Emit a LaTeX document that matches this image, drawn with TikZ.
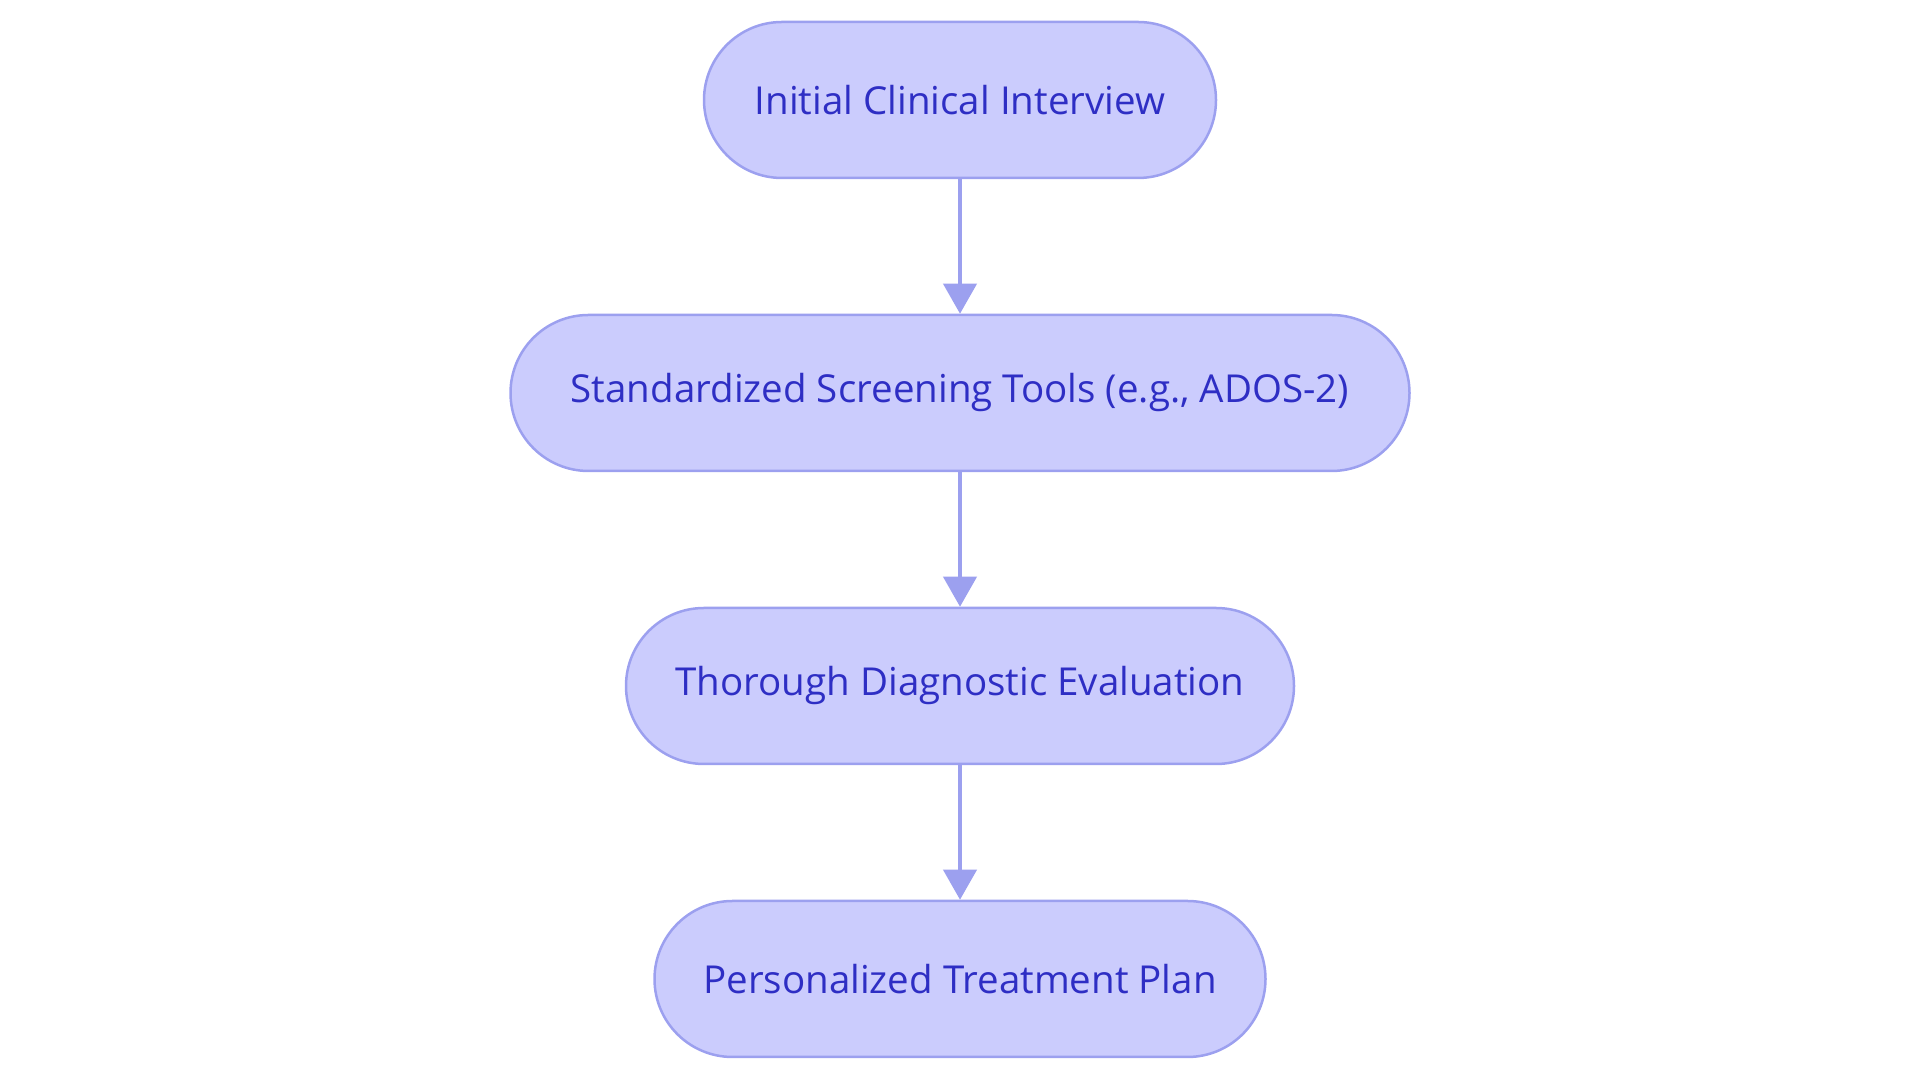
\documentclass[tikz,border=0pt]{standalone}
\usepackage{fontspec}
\setmainfont{Open Sans}
\usetikzlibrary{arrows.meta}
\definecolor{stepfill}{HTML}{CBCCFD}
\definecolor{stepline}{HTML}{9CA0EF}
\definecolor{steptext}{HTML}{2E2EC4}
\begin{document}
\begin{tikzpicture}[x=1pt,y=1pt]

    \tikzset{
      stepbox/.style={
        draw=stepline,
        fill=stepfill,
        line width=2.5pt,
        rounded corners=78pt,
        minimum height=156pt,
        inner xsep=0pt,
        text=steptext,
        font=\fontsize{38.5}{44}\selectfont,
      },
      flow/.style={
        draw=stepline,
        line width=4pt,
        -{Triangle[width=33pt,length=30pt]},
      },
    }
    \useasboundingbox (0,0) rectangle (1920,1083);

    \node[stepbox, minimum width=512pt] (interview) at (960,983) {Initial Clinical Interview};
    \node[stepbox, minimum width=899pt] (screening) at (960,690) {Standardized Screening Tools (e.g., ADOS-2)};
    \node[stepbox, minimum width=668pt] (evaluation) at (960,397) {Thorough Diagnostic Evaluation};
    \node[stepbox, minimum width=611pt] (treatment) at (960,104) {Personalized Treatment Plan};

    \draw[flow] (interview) -- (screening);
    \draw[flow] (screening) -- (evaluation);
    \draw[flow] (evaluation) -- (treatment);

\end{tikzpicture}
\end{document}
